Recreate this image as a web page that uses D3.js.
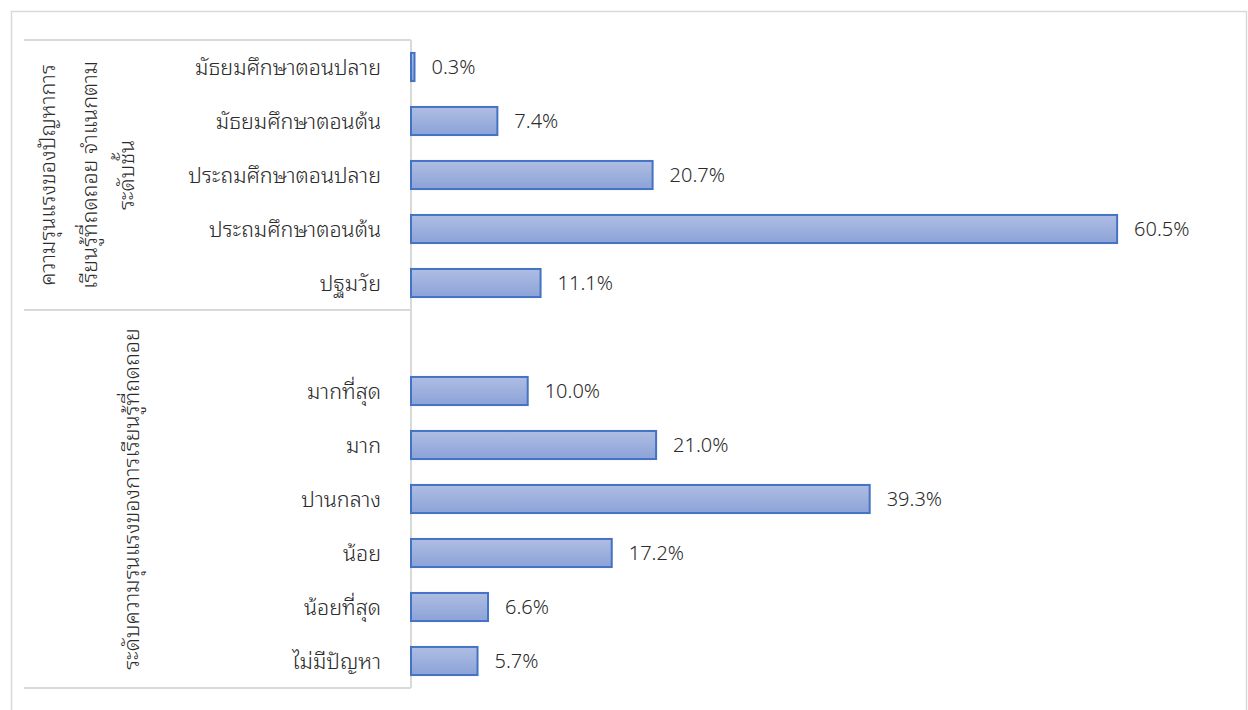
<!DOCTYPE html>
<html>
<head>
<meta charset="utf-8">
<script src="https://cdn.jsdelivr.net/npm/d3@7"></script>
<style>
  html, body { margin: 0; padding: 0; background: #fff; }
  svg { display: block; }
  text { font-family: "Noto Sans Thai Looped", "Noto Sans Thai", "Noto Sans", Tahoma, sans-serif; font-weight: 300; }
</style>
</head>
<body>
<svg id="chart" width="1248" height="710"></svg>
<script>
// ---- data ----
const group1Label = ["ความรุนแรงของปัญหาการ", "เรียนรู้ที่ถดถอย จำแนกตาม", "ระดับชั้น"];
const group1Categories = ["มัธยมศึกษาตอนปลาย", "มัธยมศึกษาตอนต้น", "ประถมศึกษาตอนปลาย", "ประถมศึกษาตอนต้น", "ปฐมวัย"];
const group1Values = [0.3, 7.4, 20.7, 60.5, 11.1];
const group2Label = ["ระดับความรุนแรงของการเรียนรู้ที่ถดถอย"];
const group2Categories = ["มากที่สุด", "มาก", "ปานกลาง", "น้อย", "น้อยที่สุด", "ไม่มีปัญหา"];
const group2Values = [10.0, 21.0, 39.3, 17.2, 6.6, 5.7];

// ---- build rows ----
const rows = [];
group1Categories.forEach((c, i) => rows.push({ key: "g1-" + i, label: c, value: group1Values[i] }));
rows.push({ key: "gap", label: "", value: null });
group2Categories.forEach((c, i) => rows.push({ key: "g2-" + i, label: c, value: group2Values[i] }));

const svg = d3.select("#chart");
const axisX = 411, plotTop = 40, plotBottom = 688, leftEdge = 24;
const gridColor = "#d9d9d9";
const textColor = "#2b2b2b";
const thaiSize = 21.5, valueSize = 20;

// outer chart frame
svg.append("rect").attr("x", 11.5).attr("y", 11.5).attr("width", 1235).attr("height", 710)
  .attr("fill", "none").attr("stroke", gridColor).attr("stroke-width", 1.5);

const x = d3.scaleLinear().domain([0, 70]).range([axisX, axisX + 817]);
const y = d3.scaleBand().domain(rows.map(d => d.key)).range([plotTop, plotBottom])
  .paddingInner(0.48).paddingOuter(0.24);
const slot = d3.scaleBand().domain(rows.map(d => d.key)).range([plotTop, plotBottom]);

// category axis frame lines
const sepY = slot("gap");
const lines = [
  [leftEdge, plotTop, axisX, plotTop],
  [leftEdge, sepY, axisX, sepY],
  [leftEdge, plotBottom, axisX, plotBottom],
  [axisX, plotTop, axisX, plotBottom]
];
svg.append("g").selectAll("line").data(lines).join("line")
  .attr("x1", d => d[0]).attr("y1", d => d[1]).attr("x2", d => d[2]).attr("y2", d => d[3])
  .attr("stroke", gridColor).attr("stroke-width", 2);

// gradient
const defs = svg.append("defs");
const grad = defs.append("linearGradient").attr("id", "barGrad")
  .attr("x1", 0).attr("y1", 0).attr("x2", 0).attr("y2", 1);
grad.append("stop").attr("offset", "0%").attr("stop-color", "#aebde3");
grad.append("stop").attr("offset", "100%").attr("stop-color", "#8ca3d8");

const data = rows.filter(d => d.value !== null);

// bars
svg.append("g").selectAll("rect").data(data).join("rect")
  .attr("x", x(0))
  .attr("y", d => y(d.key))
  .attr("width", d => x(d.value) - x(0))
  .attr("height", y.bandwidth())
  .attr("fill", "url(#barGrad)")
  .attr("stroke", "#4472c4")
  .attr("stroke-width", 2);

// value labels
svg.append("g").selectAll("text").data(data).join("text")
  .attr("x", d => x(d.value) + 17)
  .attr("y", d => y(d.key) + y.bandwidth() / 2 - 2)
  .attr("dominant-baseline", "central")
  .attr("font-size", valueSize)
  .attr("fill", textColor)
  .text(d => d.value.toFixed(1) + "%");

// category labels
svg.append("g").selectAll("text").data(data).join("text")
  .attr("x", axisX - 30)
  .attr("y", d => y(d.key) + y.bandwidth() / 2 - 2)
  .attr("dominant-baseline", "central")
  .attr("text-anchor", "end")
  .attr("font-size", thaiSize)
  .attr("fill", textColor)
  .text(d => d.label);

// group labels (rotated)
const g1Center = (plotTop + sepY) / 2;
const g2Center = (sepY + plotBottom) / 2;
const g1X = [45, 87, 124];
group1Label.forEach((t, i) => {
  svg.append("text")
    .attr("transform", `translate(${g1X[i]},${g1Center}) rotate(-90)`)
    .attr("text-anchor", "middle").attr("dominant-baseline", "central")
    .attr("font-size", thaiSize).attr("fill", textColor).text(t);
});
svg.append("text")
  .attr("transform", `translate(129,${g2Center}) rotate(-90)`)
  .attr("text-anchor", "middle").attr("dominant-baseline", "central")
  .attr("font-size", thaiSize).attr("fill", textColor).text(group2Label[0]);
</script>
</body>
</html>
